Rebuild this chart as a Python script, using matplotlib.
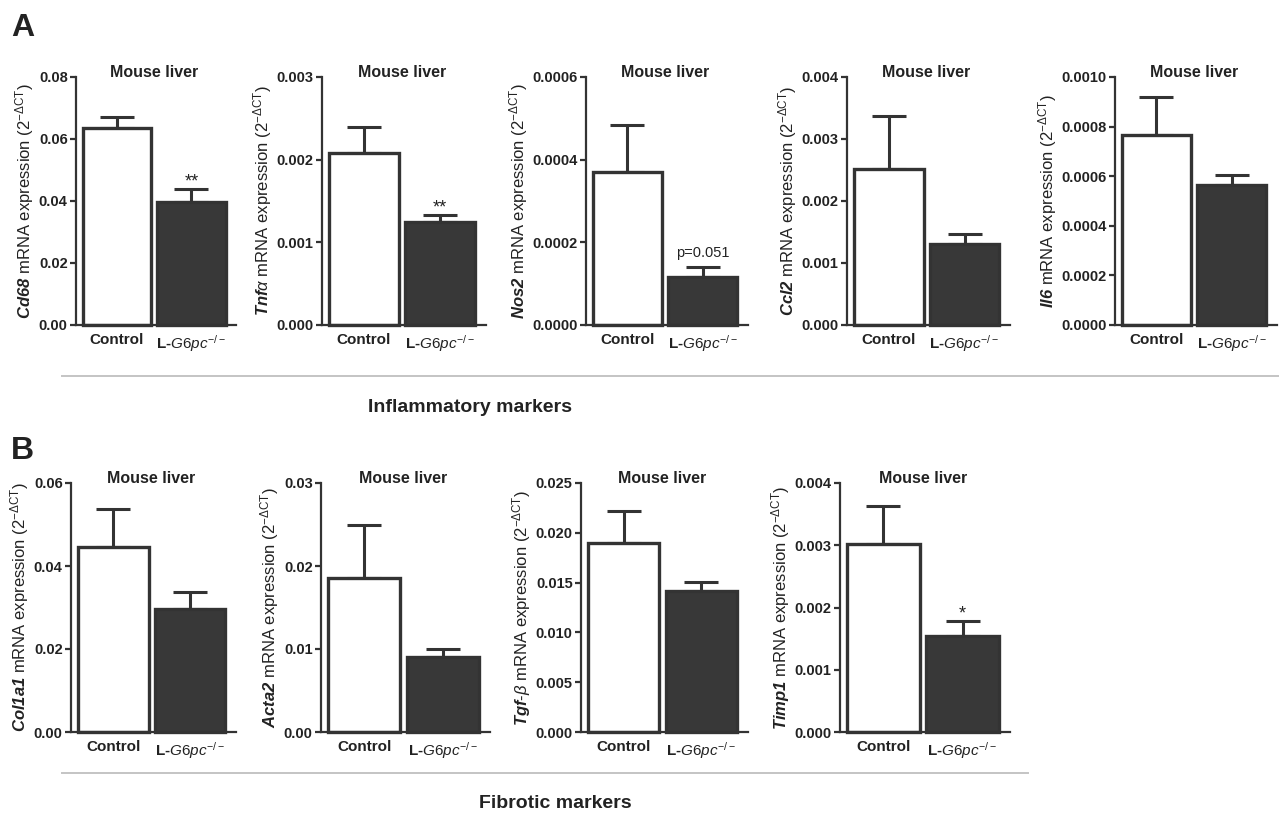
import matplotlib
matplotlib.use('Agg')
import matplotlib.pyplot as plt
from matplotlib.lines import Line2D
from matplotlib.ticker import FixedLocator, FormatStrFormatter
import numpy as np

plt.rcParams['font.family'] = ['Liberation Sans', 'DejaVu Sans']
plt.rcParams['mathtext.fontset'] = 'custom'
plt.rcParams['mathtext.rm'] = 'Liberation Sans'
plt.rcParams['mathtext.it'] = 'Liberation Sans:italic'
plt.rcParams['mathtext.bf'] = 'Liberation Sans:bold'
plt.rcParams['mathtext.bfit'] = 'Liberation Sans:bold:italic'

# groups and data (mean, SEM)
groups = ['Control', 'L-$\\mathit{G6pc}^{-/-}$']

genes_a = ['$\\mathbfit{Cd68}$', '$\\mathbfit{Tnf}\\alpha$', '$\\mathbfit{Nos2}$',
           '$\\mathbfit{Ccl2}$', '$\\mathbfit{Il6}$']
means_a = [[0.0635, 0.0397], [0.00208, 0.00125], [0.000370, 0.000115],
           [0.00251, 0.00131], [0.000765, 0.000565]]
sems_a = [[0.0037, 0.0043], [0.00032, 0.00008], [0.000115, 0.000025],
          [0.00086, 0.00016], [0.000155, 0.00004]]
ymax_a = [0.08, 0.003, 0.0006, 0.004, 0.0010]
step_a = [0.02, 0.001, 0.0002, 0.001, 0.0002]
fmt_a = ['%.2f', '%.3f', '%.4f', '%.3f', '%.4f']
sig_a = ['**', '**', 'p=0.051', None, None]

genes_b = ['$\\mathbfit{Col1a1}$', '$\\mathbfit{Acta2}$', '$\\mathbfit{Tgf}$-$\\beta$',
           '$\\mathbfit{Timp1}$']
means_b = [[0.0445, 0.0297], [0.0186, 0.0090], [0.0190, 0.0142], [0.00302, 0.00154]]
sems_b = [[0.0092, 0.0041], [0.0064, 0.0010], [0.0032, 0.0009], [0.00061, 0.00024]]
ymax_b = [0.06, 0.03, 0.025, 0.004]
step_b = [0.02, 0.01, 0.005, 0.001]
fmt_b = ['%.2f', '%.2f', '%.3f', '%.3f']
sig_b = [None, None, None, '*']

W, H = 1279, 817
dark = '#333333'
fill = '#383838'

fig = plt.figure(figsize=(W / 100, H / 100), dpi=100)

# panel pixel boxes (left, right)
cols_a = [(76, 236), (322, 486), (586, 748), (847, 1010), (1115, 1277)]
cols_b = [(71, 236), (321, 490), (581, 748), (840, 1010)]
rows = {'a': (77, 325), 'b': (483, 732)}


def panel(box, rowbox, gene, means, sems, ymax, step, fmt, sig):
    l, r = box
    t, b = rowbox
    ax = fig.add_axes([l / W, 1 - b / H, (r - l) / W, (b - t) / H])
    x = np.arange(len(groups))
    ax.errorbar(x, means, yerr=[np.zeros(len(sems)), sems], fmt='none',
                ecolor=dark, elinewidth=2.2, capsize=12, capthick=2.2, zorder=1)
    bars = ax.bar(x, means, width=0.92, color=['white', fill],
                  edgecolor=dark, linewidth=2.4, zorder=2)
    for bar in bars:
        bar.set_clip_on(False)
    ax.set_xlim(-0.55, 1.6)
    ax.set_ylim(0, ymax)
    ax.yaxis.set_major_locator(FixedLocator(np.arange(0, ymax + step / 2, step)))
    ax.yaxis.set_major_formatter(FormatStrFormatter(fmt))
    ax.set_xticks(x)
    ax.set_xticklabels(groups, fontweight='bold', fontsize=11, color='#222222')
    for s in ['top', 'right']:
        ax.spines[s].set_visible(False)
    for s in ['left', 'bottom']:
        ax.spines[s].set_linewidth(1.6)
        ax.spines[s].set_color(dark)
    ax.tick_params(axis='y', direction='out', length=4, width=1.6, color=dark,
                   labelsize=10.5, pad=2, labelcolor='#222222')
    for lab in ax.get_yticklabels():
        lab.set_fontweight('bold')
    ax.tick_params(axis='x', length=0, pad=6)
    ax.set_ylabel(gene + ' mRNA expression (2$^{-\\Delta\\mathrm{CT}}$)',
                  fontsize=12, color='#222222', labelpad=2)
    ax.text(0.5, 1.02, 'Mouse liver', transform=ax.get_xaxis_transform(),
            ha='center', va='center', fontsize=11.5, fontweight='bold',
            color='#222222')
    if sig is not None:
        top = means[1] + sems[1]
        if sig.startswith('p'):
            ax.annotate(sig, (1, top), xytext=(0, 5), textcoords='offset points',
                        ha='center', va='bottom', fontsize=10.5, color='#222222')
        else:
            ax.annotate(sig, (1, top), xytext=(0, -1), textcoords='offset points',
                        ha='center', va='bottom', fontsize=13, color='#222222')
    return ax


for i in range(len(genes_a)):
    panel(cols_a[i], rows['a'], genes_a[i], means_a[i], sems_a[i], ymax_a[i],
          step_a[i], fmt_a[i], sig_a[i])
for i in range(len(genes_b)):
    panel(cols_b[i], rows['b'], genes_b[i], means_b[i], sems_b[i], ymax_b[i],
          step_b[i], fmt_b[i], sig_b[i])

# separators and section titles
fig.add_artist(Line2D([62 / W, 1.0], [1 - 376 / H, 1 - 376 / H], color='#c4c4c4', lw=1.4))
fig.add_artist(Line2D([62 / W, 1028 / W], [1 - 773 / H, 1 - 773 / H], color='#c4c4c4', lw=1.4))
fig.text(470 / W, 1 - 407 / H, 'Inflammatory markers', ha='center', va='center',
         fontsize=14, fontweight='bold', color='#222222')
fig.text(555 / W, 1 - 803 / H, 'Fibrotic markers', ha='center', va='center',
         fontsize=14, fontweight='bold', color='#222222')
fig.text(11 / W, 1 - 36 / H, 'A', fontsize=23, fontweight='bold', va='baseline',
         color='#222222')
fig.text(11 / W, 1 - 459 / H, 'B', fontsize=23, fontweight='bold', va='baseline',
         color='#222222')

plt.savefig('out.png', dpi=100)
